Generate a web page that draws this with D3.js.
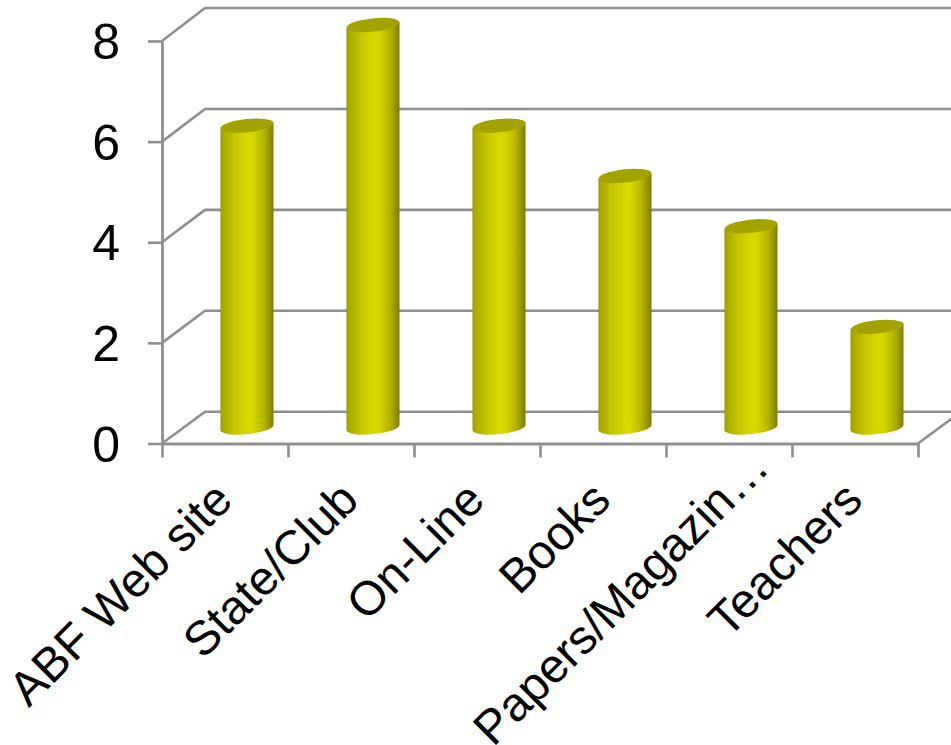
<!DOCTYPE html>
<html>
<head>
<meta charset="utf-8">
<script src="https://cdn.jsdelivr.net/npm/d3@7/dist/d3.min.js"></script>
<style>
html, body { margin: 0; padding: 0; background: #fff; }
svg { display: block; }
text { font-family: "Liberation Sans", Arial, sans-serif; fill: #000; }
</style>
</head>
<body>
<svg id="chart" width="951" height="745"></svg>
<script>
// Survey sources, drawn as 3D cylinders
const categories = ["ABF Web site", "State/Club", "On-Line", "Books", "Papers/Magazin…", "Teachers"];
const counts = [6, 8, 6, 5, 4, 2];
const valueTicks = [0, 2, 4, 6, 8];

const width = 951, height = 745;
const plot = { left: 162, right: 918, top: 41, bottom: 443.5 };
const backWall = { left: 205, top: 8, bottom: 411.7 };
const baseLift = 16;                   // cylinders stand mid-way across the floor
const barWidth = 53;
const capRy = 6.6, capTilt = -6;
const gridColor = "#8f8f8f";
const tickFontSize = 50, labelFontSize = 47.8;
const truncatedShift = 46;             // clipped labels run further along their slant

const svg = d3.select("#chart").attr("viewBox", [0, 0, width, height]);

const y = d3.scaleLinear().domain([0, 8]).range([plot.bottom, plot.top]);
const yBack = d3.scaleLinear().domain([0, 8]).range([backWall.bottom, backWall.top]);
const x = d3.scaleBand().domain(categories).range([plot.left, plot.right]);
const slots = d3.scaleLinear().domain([0, categories.length]).range([plot.left, plot.right]);
const depthX = backWall.left - plot.left;

// Cylinder shading, dark rims around a bright band
const defs = svg.append("defs");
const grad = defs.append("linearGradient").attr("id", "cylinder");
[[0, "#8f8f00"], [0.03, "#a6a600"], [0.25, "#c4c400"], [0.5, "#d8d800"], [0.6, "#d8d800"],
 [0.8, "#b8b800"], [0.93, "#939300"], [1, "#7c7c00"]]
  .forEach(([o, c]) => grad.append("stop").attr("offset", o).attr("stop-color", c));

// Wall and floor gridlines
const grid = svg.append("g").attr("fill", "none").attr("stroke", gridColor).attr("stroke-width", 2.6);
grid.selectAll("path.wall").data(valueTicks).join("path").attr("class", "wall")
  .attr("stroke-linejoin", "round")
  .attr("d", d => d3.line()([
    [plot.left, y(d)],
    [backWall.left, yBack(d)],
    [width + 4, yBack(d)]
  ]));
grid.append("path").attr("d", d3.line()([
  [plot.right, y(0)],
  [plot.right + depthX, yBack(0)]
]));

// Axes
const yAxis = svg.append("g").attr("transform", `translate(${plot.left},0)`)
  .call(d3.axisLeft(y).tickValues(valueTicks).tickSize(14).tickPadding(28).tickSizeOuter(0));
yAxis.selectAll("text").attr("font-size", tickFontSize).attr("dy", "0.35em")
  .style("font-family", '"Liberation Sans", Arial, sans-serif');

const xAxis = svg.append("g").attr("transform", `translate(0,${plot.bottom})`)
  .call(d3.axisBottom(slots).ticks(categories.length).tickSize(14).tickFormat("").tickSizeOuter(0));

[yAxis, xAxis].forEach(a => {
  a.selectAll("line").attr("stroke", gridColor).attr("stroke-width", 2.6);
  a.select(".domain").attr("stroke", gridColor).attr("stroke-width", 2.8);
});

// Cylinders
const bars = svg.append("g").selectAll("g").data(categories.map((c, i) => ({ c, v: counts[i] }))).join("g")
  .attr("transform", d => `translate(${x(d.c) + x.bandwidth() / 2 + depthX / 2 + 0.5},0)`);

const rx = barWidth / 2;
const tiltRad = capTilt * Math.PI / 180;
const edgeDy = rx * Math.tan(tiltRad);
const base = y(0) - baseLift;

bars.append("path")
  .attr("fill", "url(#cylinder)")
  .attr("d", d => {
    const top = y(d.v) - baseLift;
    return `M${-rx},${top - edgeDy} L${-rx},${base - edgeDy}`
      + ` A${rx},${capRy} ${capTilt} 0 0 ${rx},${base + edgeDy}`
      + ` L${rx},${top + edgeDy} Z`;
  });

bars.append("path")
  .attr("fill", "#a3a300")
  .attr("d", d => {
    const top = y(d.v) - baseLift;
    return `M${-rx},${top - edgeDy} A${rx},${capRy} ${capTilt} 1 1 ${rx},${top + edgeDy}`
      + ` A${rx},${capRy} ${capTilt} 1 1 ${-rx},${top - edgeDy} Z`;
  });

// Slanted category labels, ending under each slot
svg.append("g").selectAll("text").data(categories).join("text")
  .attr("text-anchor", "end")
  .attr("font-size", labelFontSize)
  .attr("transform", d => {
    const shift = d.endsWith("…") ? truncatedShift * Math.SQRT1_2 : 0;
    return `translate(${x(d) + x.bandwidth() / 2 - 2 + shift},${plot.bottom + 47 - shift}) rotate(-45)`;
  })
  .attr("dy", "0.35em")
  .text(d => d);
</script>
</body>
</html>
